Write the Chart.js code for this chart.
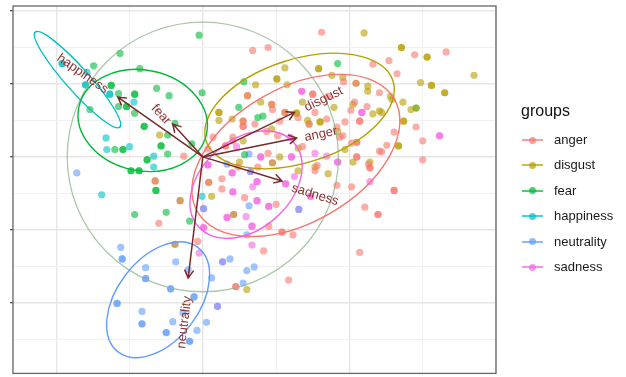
<!DOCTYPE html>
<html>
<head>
<meta charset="utf-8">
<script src="https://cdn.jsdelivr.net/npm/chart.js@4.4.1/dist/chart.umd.min.js"></script>
<style>
  html, body { margin: 0; padding: 0; background: #ffffff; }
  #wrap { position: relative; width: 626px; height: 377px; overflow: hidden; }
  #c { position: absolute; left: 0; top: 0; }
  #legend { position: absolute; left: 0; top: 0; width: 626px; height: 377px; pointer-events: none;
            font-family: "Liberation Sans", Arial, Helvetica, sans-serif; }
  .lg-title { position: absolute; left: 521px; top: 101px; font-size: 16px; color: #111; line-height: 20px; }
  .lg-row { position: absolute; left: 522px; height: 16px; }
  .lg-key { position: absolute; left: 0; top: 0; width: 21px; height: 16px; }
  .lg-line { position: absolute; left: 0; top: 7px; width: 21px; height: 2px; }
  .lg-dot { position: absolute; left: 7px; top: 4.5px; width: 7px; height: 7px; border-radius: 50%; }
  .lg-text { position: absolute; left: 32px; top: -1px; font-size: 13px; line-height: 18px; color: #1a1a1a; white-space: nowrap; }
</style>
</head>
<body>
<div id="wrap">
  <canvas id="c" width="626" height="377"></canvas>
  <div id="legend"></div>
</div>
<script>
// Groups and their colours (default ggplot hue palette)
const groups = ['anger', 'disgust', 'fear', 'happiness', 'neutrality', 'sadness'];
const groupColors = ['#F8766D', '#B79F00', '#00BA38', '#00BFC4', '#619CFF', '#F564E3'];

// Individual scores on the first two principal components [PC1, PC2]
// (repeated entries are coinciding observations)
const angerScores = [
  [0.68,1.46],[0.89,1.50],[1.62,1.71],[2.32,1.27],[2.54,1.32],[2.89,1.40],[3.32,1.44],[2.65,1.14],
  [1.92,1.03],[2.41,0.88],[1.71,0.83],[2.07,0.75],[2.24,0.69],[2.02,0.64],[1.53,0.61],[1.30,0.54],
  [1.69,0.52],[1.94,0.48],[2.14,0.49],[2.14,0.49],[1.83,0.41],[1.91,0.29],[2.91,0.41],[2.61,0.34],
  [1.50,0.86],[1.50,0.86],[0.95,0.65],[0.55,0.42],[0.55,0.42],[0.71,0.45],[1.05,0.49],[0.87,0.35],
  [0.14,0.27],[0.41,0.27],[1.02,0.29],[0.41,0.22],[0.31,0.15],[0.31,0.15],[0.89,0.05],[0.07,0.11],
  [0.48,-0.14],[0.75,-0.14],[0.26,-0.44],[0.57,-0.56],[1.00,-0.65],[0.90,-0.95],[-0.07,-1.16],
  [1.08,-1.03],[1.08,-1.03],[-0.26,0.01],[-0.60,-0.91],[1.36,0.14],[1.87,0.27],[2.41,0.08],
  [1.56,-0.12],[1.53,-0.19],[2.26,-0.10],[2.28,-0.15],[2.28,-0.15],[1.83,-0.39],[2.03,-0.41],
  [2.21,-0.69],[2.39,-0.79],[2.39,-0.79],[1.23,-1.07],[2.61,-0.46],[2.61,-0.46],[3.00,0.22],
  [3.00,-0.04],[2.51,0.16],[2.44,0.07],[2.10,0.00],[2.10,0.00],[2.03,0.19],[0.83,-1.29],
  [2.14,-1.31],[1.17,-1.69],[0.45,-1.78],[0.45,-1.78],[0.26,-0.30],
  [-0.65,-0.33],[0.08,-0.35],[0.61,0.84],[0.94,0.72],[1.12,0.61],[2.09,1.01],[1.45,0.45],
  [2.10,0.20],[0.55,0.49]
];
const disgustScores = [
  [1.12,1.22],[1.01,1.07],[1.01,1.07],[0.72,0.99],[1.15,0.99],[0.79,0.75],[0.22,0.61],[0.22,0.61],
  [0.22,0.50],[0.40,0.52],[0.94,0.38],[2.20,1.70],[1.58,1.21],[1.58,1.21],[1.76,1.12],[1.91,1.09],
  [2.25,0.97],[2.25,0.90],[1.36,0.75],[2.05,0.72],[1.79,0.68],[2.32,0.59],[2.41,0.63],[1.28,0.60],
  [1.28,0.60],[1.43,0.50],[1.60,0.48],[1.60,0.48],[1.84,0.35],[2.71,1.50],[2.71,1.50],[3.06,1.37],
  [3.06,1.37],[3.70,1.12],[2.97,1.02],[3.12,0.98],[3.12,0.98],[3.30,0.88],[3.30,0.88],[2.56,0.83],
  [2.58,0.79],[2.73,0.75],[2.84,0.65],[2.91,0.67],[2.44,0.61],[2.74,0.49],[2.74,0.49],[2.67,0.15],
  [2.67,0.15],[2.28,-0.07],[2.05,-0.07],[1.94,0.10],[1.30,0.12],[0.55,0.22],[1.05,0.00],[0.50,-0.07],
  [1.30,-0.19],[1.53,-0.14],[1.71,-0.23],[0.12,-0.54],[-0.59,0.30],[0.60,-1.82],
  [-0.65,-0.33],[0.08,-0.35],[0.61,0.84],[0.94,0.72],[1.12,0.61],[2.09,1.01],[1.45,0.45],
  [2.10,0.20],[0.55,0.49],[0.95,-0.08],[0.42,-0.79],[-0.38,-1.20],[-0.31,-0.60]
];
const fearScores = [
  [-1.49,1.25],[-1.13,1.42],[-0.05,1.67],[-0.86,1.21],[-1.25,0.98],[-1.25,0.98],[-1.15,0.87],
  [-0.93,0.86],[-0.93,0.86],[-0.63,0.94],[-0.46,0.84],[-0.01,0.88],[-1.15,0.69],[-1.04,0.69],
  [-1.04,0.69],[-1.54,0.65],[-0.93,0.60],[-0.80,0.42],[-0.80,0.42],[-0.38,0.46],[-0.48,0.30],
  [-0.57,0.15],[-0.57,0.15],[-0.15,0.18],[-1.20,0.10],[-1.09,0.10],[-1.09,0.10],[-0.76,-0.04],
  [-0.76,-0.04],[-0.48,0.04],[-0.98,-0.19],[-0.98,-0.19],[-0.87,-0.19],[-0.87,-0.19],[-0.64,-0.46],
  [-0.64,-0.46],[-0.93,-0.79],[-0.50,-0.76],[-0.18,-0.88],[0.56,1.03],[0.49,0.68],[0.75,0.54],
  [0.82,0.56],[1.84,1.28],[2.91,0.67],[0.57,0.03]
];
const happinessScores = [
  [-1.92,1.28],[-1.92,1.28],[-1.58,1.16],[-1.60,0.99],[-1.60,0.99],[-1.27,0.86],[-1.27,0.86],
  [-0.94,0.75],[-1.32,0.26],[-1.31,0.10],[-1.00,0.14],[-0.67,0.01],[-0.67,-0.14],[-1.38,-0.52],
  [-0.01,-0.54]
];
const neutralityScores = [
  [-1.72,-0.22],[0.63,0.04],[0.33,-0.10],[0.65,-0.20],[0.63,-0.67],[0.60,-1.07],[0.37,-1.40],
  [0.60,-1.56],[0.70,-1.51],[0.55,-1.73],[-1.12,-1.24],[-1.10,-1.40],[-1.10,-1.40],[-0.37,-1.44],
  [-0.78,-1.52],[-0.20,-1.55],[-0.78,-1.67],[-0.78,-1.67],[0.12,-1.66],[-0.44,-1.81],[-0.44,-1.81],
  [-0.12,-1.92],[-0.12,-1.92],[-1.17,-2.01],[-1.17,-2.01],[-0.83,-2.12],[-0.83,-2.29],[-0.83,-2.29],
  [-0.41,-2.26],[0.05,-2.27],[-0.08,-2.38],[-0.50,-2.41],[-0.50,-2.41],[-0.18,-2.53],[-0.18,-2.53],
  [-0.27,-2.14],[1.31,-0.72],[0.01,-0.71],[0.20,-2.05],[0.27,-1.44]
];
const sadnessScores = [
  [0.79,0.00],[0.79,0.00],[0.07,-0.11],[0.07,-0.11],[0.40,-0.22],[0.40,-0.22],[0.74,-0.34],
  [0.74,-0.34],[1.13,-0.37],[1.13,-0.37],[0.41,-0.48],[0.41,-0.48],[0.74,-0.60],[0.74,-0.60],
  [0.90,-0.68],[0.90,-0.68],[0.33,-0.83],[0.33,-0.83],[0.01,-0.97],[0.01,-0.97],[0.67,-0.95],
  [0.67,-0.95],[1.47,-0.54],[1.47,-0.54],[1.84,-0.07],[1.84,-0.07],[1.21,0.00],[1.21,0.00],
  [0.46,0.14],[0.68,-0.41],[0.59,-0.82],[0.67,-1.21],[-0.05,-1.32],[1.53,0.05],[1.69,0.01],
  [1.25,-0.27],[2.28,-0.34],[1.35,0.90],[1.35,0.90],[2.17,0.61],[2.17,0.61],[3.23,0.29],
  [3.23,0.29],[1.19,0.27],[0.65,-0.20],[1.31,-0.72],[0.01,-0.71],[0.20,-2.05],[0.27,-1.44],
  [0.95,-0.08],[0.42,-0.79],[-0.38,-1.20],[-0.31,-0.60]
];
const groupScores = [angerScores, disgustScores, fearScores, happinessScores, neutralityScores, sadnessScores];

// Concentration ellipses per group: centre, semi-axes and rotation (degrees), in PC units
const ellipseCx    = [1.27, 1.32, -0.82, -1.71, -0.61, 0.59];
const ellipseCy    = [0.02, 0.63,  0.50,  1.06, -1.96, -0.38];
const ellipseA     = [1.55, 1.34,  0.89,  0.87,  0.90, 0.87];
const ellipseB     = [0.92, 0.71,  0.69,  0.16,  0.56, 0.61];
const ellipseAngle = [30,   18,   -12,   -48.5,   53,   42];
// Ellipse of all observations
const overallEllipse = [0, 0, 1.85, 1.85, 0];

// Variable loadings (arrow tips) and label anchors
const variableNames = ['anger', 'disgust', 'fear', 'happiness', 'neutrality', 'sadness'];
const loadingX = [1.28, 1.25, -0.41, -1.16, -0.20,  1.08];
const loadingY = [0.26, 0.61,  0.45,  0.82, -1.66, -0.33];
const labelX   = [1.61, 1.65, -0.57, -1.64, -0.25,  1.53];
const labelY   = [0.31, 0.79,  0.58,  1.14, -2.27, -0.52];

// Axis ranges and grid breaks
const xRange = [-2.59, 4.0];
const yRange = [-2.97, 2.07];
const xMinorStep = 1, xMajorStep = 2;
const yMinorStep = 0.5, yMajorStep = 1;

function rgba(hex, a) {
  const n = parseInt(hex.slice(1), 16);
  return `rgba(${(n >> 16) & 255},${(n >> 8) & 255},${n & 255},${a})`;
}
const isMultiple = (v, step) => Math.abs(v / step - Math.round(v / step)) < 1e-6;

const datasets = groups.map((g, i) => ({
  label: g,
  data: groupScores[i].map(p => ({ x: p[0], y: p[1] })),
  backgroundColor: rgba(groupColors[i], 0.6),
  borderWidth: 0,
  pointRadius: 3.6,
  pointHoverRadius: 3.6
}));

const ARROW_COLOR = '#7a2a2a';
const LABEL_COLOR = '#8b3434';

const biplotLayer = {
  id: 'biplotLayer',
  afterDatasetsDraw(chart) {
    const { ctx, chartArea: ca, scales: { x, y } } = chart;
    const kx = x.getPixelForValue(1) - x.getPixelForValue(0);
    const ky = y.getPixelForValue(0) - y.getPixelForValue(1);
    ctx.save();
    ctx.beginPath();
    ctx.rect(ca.left, ca.top, ca.right - ca.left, ca.bottom - ca.top);
    ctx.clip();

    const strokeEllipse = (cx, cy, a, b, deg, color, width) => {
      ctx.save();
      ctx.translate(x.getPixelForValue(cx), y.getPixelForValue(cy));
      ctx.scale(kx, -ky);
      ctx.rotate(deg * Math.PI / 180);
      ctx.beginPath();
      ctx.ellipse(0, 0, a, b, 0, 0, Math.PI * 2);
      ctx.restore();
      ctx.strokeStyle = color;
      ctx.lineWidth = width;
      ctx.stroke();
    };

    // overall ellipse
    strokeEllipse(overallEllipse[0], overallEllipse[1], overallEllipse[2], overallEllipse[3],
                  overallEllipse[4], 'rgba(140,180,140,0.75)', 1.3);
    // group ellipses
    groups.forEach((g, i) => {
      strokeEllipse(ellipseCx[i], ellipseCy[i], ellipseA[i], ellipseB[i], ellipseAngle[i], groupColors[i], 1.4);
    });

    // loading arrows
    const ox = x.getPixelForValue(0), oy = y.getPixelForValue(0);
    ctx.strokeStyle = ARROW_COLOR;
    ctx.lineWidth = 1.5;
    ctx.lineCap = 'round';
    variableNames.forEach((v, i) => {
      const tx = x.getPixelForValue(loadingX[i]);
      const ty = y.getPixelForValue(loadingY[i]);
      const ang = Math.atan2(ty - oy, tx - ox);
      ctx.beginPath();
      ctx.moveTo(ox, oy);
      ctx.lineTo(tx, ty);
      const head = 8.5, spread = Math.PI / 6;
      ctx.moveTo(tx - head * Math.cos(ang - spread), ty - head * Math.sin(ang - spread));
      ctx.lineTo(tx, ty);
      ctx.lineTo(tx - head * Math.cos(ang + spread), ty - head * Math.sin(ang + spread));
      ctx.stroke();
    });

    // variable labels, rotated along their arrows
    ctx.fillStyle = LABEL_COLOR;
    ctx.font = '13px "Liberation Sans", Arial, sans-serif';
    ctx.textAlign = 'center';
    ctx.textBaseline = 'middle';
    variableNames.forEach((v, i) => {
      const tx = x.getPixelForValue(loadingX[i]);
      const ty = y.getPixelForValue(loadingY[i]);
      let ang = Math.atan2(ty - oy, tx - ox);
      if (ang > Math.PI / 2) ang -= Math.PI;
      if (ang <= -Math.PI / 2) ang += Math.PI;
      ctx.save();
      ctx.translate(x.getPixelForValue(labelX[i]), y.getPixelForValue(labelY[i]));
      ctx.rotate(ang);
      ctx.fillText(v, 0, 0);
      ctx.restore();
    });
    ctx.restore();
  },
  afterDraw(chart) {
    const { ctx, chartArea: ca } = chart;
    ctx.save();
    ctx.strokeStyle = '#666666';
    ctx.lineWidth = 1.3;
    ctx.strokeRect(ca.left, ca.top, ca.right - ca.left, ca.bottom - ca.top);
    ctx.restore();
  }
};

new Chart(document.getElementById('c'), {
  type: 'scatter',
  data: { datasets },
  options: {
    responsive: false,
    animation: false,
    events: [],
    layout: { padding: { top: 6, right: 130, bottom: 0, left: 0 } },
    plugins: { legend: { display: false }, tooltip: { enabled: false } },
    scales: {
      x: {
        type: 'linear',
        min: xRange[0], max: xRange[1],
        afterFit(scale) { scale.height = 1; },
        border: { display: false },
        ticks: { display: false, stepSize: xMinorStep, includeBounds: false },
        grid: {
          drawTicks: false,
          color: c => isMultiple(c.tick.value, xMajorStep) ? '#e6e6e6' : '#f1f1f1',
          lineWidth: c => isMultiple(c.tick.value, xMajorStep) ? 1.4 : 1
        }
      },
      y: {
        type: 'linear',
        min: yRange[0], max: yRange[1],
        afterFit(scale) { scale.width = 13; },
        border: { display: false },
        ticks: { display: false, stepSize: yMinorStep, includeBounds: false },
        grid: {
          drawTicks: true,
          tickLength: 3,
          tickColor: c => isMultiple(c.tick.value, yMajorStep) ? '#444' : 'rgba(0,0,0,0)',
          tickWidth: 1.2,
          color: c => isMultiple(c.tick.value, yMajorStep) ? '#e6e6e6' : '#f1f1f1',
          lineWidth: c => isMultiple(c.tick.value, yMajorStep) ? 1.4 : 1
        }
      }
    }
  },
  plugins: [biplotLayer]
});

// Legend
const legend = document.getElementById('legend');
const title = document.createElement('div');
title.className = 'lg-title';
title.textContent = 'groups';
legend.appendChild(title);
groups.forEach((g, i) => {
  const row = document.createElement('div');
  row.className = 'lg-row';
  row.style.top = (132 + i * 25.4) + 'px';
  const key = document.createElement('div');
  key.className = 'lg-key';
  const line = document.createElement('div');
  line.className = 'lg-line';
  line.style.background = rgba(groupColors[i], 0.7);
  const dot = document.createElement('div');
  dot.className = 'lg-dot';
  dot.style.background = rgba(groupColors[i], 0.7);
  key.appendChild(line);
  key.appendChild(dot);
  const txt = document.createElement('div');
  txt.className = 'lg-text';
  txt.textContent = g;
  row.appendChild(key);
  row.appendChild(txt);
  legend.appendChild(row);
});
</script>
</body>
</html>
